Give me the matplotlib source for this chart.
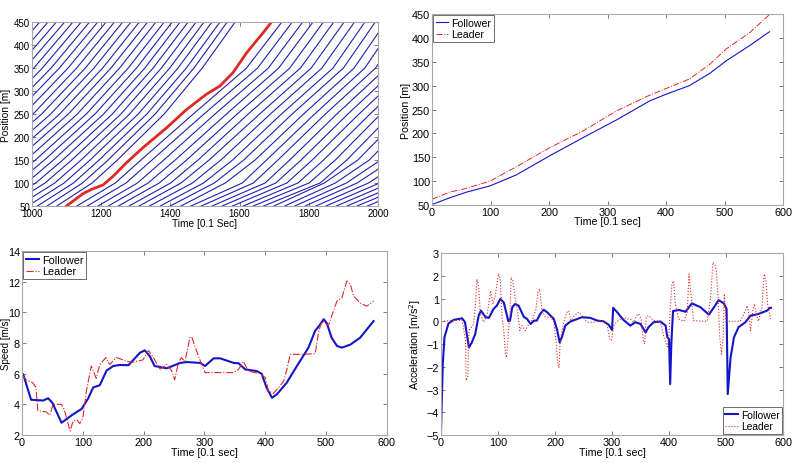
import numpy as np
import matplotlib
matplotlib.use("Agg")
import matplotlib.pyplot as plt

plt.rcParams['font.family'] = ['Liberation Sans', 'DejaVu Sans']

# trajectory plot: time [0.1 s] at which each vehicle passes 50/100/150/250/350/450 m
traj_pos = [50, 100, 150, 250, 350, 450]
cross_50 = [400, 428, 456, 484, 512, 540, 568, 596, 624, 652, 680, 708, 736, 764, 792, 820, 848, 876, 904, 932, 960, 988, 1016, 1044, 1072,
            1130, 1160, 1191, 1221, 1250, 1281, 1310, 1340, 1371, 1400, 1431, 1460, 1490, 1521, 1550, 1580, 1611, 1640, 1670, 1700,
            1731, 1760, 1790, 1821, 1850, 1880, 1911, 1940, 1970]
cross_100 = [522, 549, 576, 603, 630, 658, 685, 712, 739, 767, 794, 821, 849, 876, 903, 930, 957, 984, 1011, 1038, 1066, 1093, 1120, 1146, 1174,
             1241, 1272, 1305, 1336, 1368, 1401, 1431, 1464, 1496, 1527, 1559, 1608, 1640, 1674, 1705, 1737, 1769, 1801, 1833, 1845,
             1877, 1909, 1940, 1973, 2005, 2036, 2068, 2100, 2132]
cross_150 = [610, 637, 664, 690, 716, 743, 770, 796, 823, 850, 876, 903, 930, 956, 983, 1010, 1036, 1062, 1089, 1115, 1142, 1168, 1194, 1220, 1247,
             1315, 1347, 1381, 1414, 1447, 1480, 1512, 1546, 1580, 1612, 1645, 1678, 1711, 1745, 1778, 1810, 1843, 1877, 1910, 1942,
             1975, 2008, 2041, 2075, 2108, 2140, 2173, 2207, 2240]
cross_250 = [772, 798, 824, 849, 874, 900, 926, 951, 977, 1003, 1028, 1054, 1080, 1105, 1131, 1157, 1182, 1207, 1232, 1257, 1282, 1307, 1332, 1356, 1382,
             1466, 1497, 1529, 1562, 1593, 1625, 1658, 1689, 1721, 1752, 1785, 1817, 1848, 1881, 1913, 1945, 1977, 2008, 2040, 2072,
             2105, 2137, 2168, 2200, 2233, 2265, 2297, 2328, 2360]
cross_350 = [906, 931, 956, 980, 1005, 1030, 1055, 1079, 1104, 1129, 1154, 1179, 1204, 1228, 1253, 1278, 1302, 1326, 1350, 1374, 1398, 1422, 1446, 1468, 1492,
             1620, 1652, 1683, 1713, 1745, 1776, 1807, 1838, 1870, 1900, 1931, 1962, 1993, 2024, 2055, 2086, 2117, 2148, 2179, 2210,
             2241, 2272, 2303, 2334, 2365, 2396, 2427, 2458, 2489]
cross_450 = [1022, 1046, 1070, 1094, 1118, 1142, 1166, 1190, 1214, 1238, 1262, 1286, 1310, 1334, 1358, 1382, 1405, 1428, 1451, 1474, 1497, 1520, 1543, 1564, 1587,
             1722, 1752, 1782, 1812, 1842, 1872, 1902, 1932, 1962, 1992, 2022, 2052, 2082, 2112, 2142, 2172, 2202, 2232, 2262, 2292,
             2322, 2352, 2382, 2412, 2442, 2472, 2502, 2532, 2562]

red_time = [1100, 1148, 1172, 1206, 1235, 1273, 1321, 1389, 1447, 1504, 1543, 1581, 1620, 1668, 1692]
red_pos = [50, 77, 86, 96, 115, 144, 177, 220, 260, 293, 311, 340, 383, 427, 450]

# follower / leader position
pos_t = [0, 30, 59, 99, 144, 201, 258, 315, 372, 400, 440, 475, 503, 543, 577]
follower_pos = [51, 65, 77, 90, 113, 153, 191, 228, 268, 282, 300, 326, 352, 384, 413]
leader_pos = [62, 77, 85, 100, 130, 170, 205, 247, 280, 294, 314, 345, 377, 411, 449]

# speed
follower_speed_t = [0, 2, 15, 35, 43, 50, 65, 84, 98, 109, 117, 128, 139, 150, 161, 175, 194, 202, 210, 218,
                    238, 260, 271, 293, 301, 315, 326, 348, 356, 367, 386, 394, 402, 411, 419, 435, 452, 471,
                    482, 490, 496, 501, 509, 518, 526, 540, 556, 578]
follower_speed = [6.0, 5.96, 4.3, 4.25, 4.4, 4.1, 2.8, 3.35, 3.7, 4.4, 5.1, 5.25, 6.2, 6.5, 6.57, 6.55, 7.37, 7.52, 7.15, 6.5,
                  6.35, 6.7, 6.76, 6.7, 6.5, 7.0, 7.0, 6.7, 6.68, 6.28, 6.17, 6.0, 5.1, 4.43, 4.65, 5.4, 6.5, 7.7,
                  8.8, 9.2, 9.55, 9.3, 8.35, 7.8, 7.7, 7.9, 8.35, 9.43]
leader_speed_t = [0, 7, 18, 23, 26, 40, 46, 51, 65, 70, 79, 84, 90, 95, 100, 106, 114, 122, 128, 138,
                  144, 155, 166, 172, 183, 199, 208, 216, 227, 238, 246, 251, 257, 262, 268, 276, 279, 290, 301, 315,
                  348, 356, 364, 372, 391, 400, 405, 413, 422, 430, 435, 441, 457, 482, 488, 493, 504, 512, 518, 526,
                  534, 540, 545, 556, 567, 578]
leader_speed = [5.9, 5.6, 5.4, 5.1, 3.6, 3.5, 3.3, 4.0, 4.0, 3.6, 2.26, 2.9, 3.0, 2.75, 3.1, 4.9, 6.5, 5.7, 6.6, 7.05,
                6.6, 7.05, 6.9, 6.8, 6.75, 6.9, 7.5, 7.05, 6.3, 6.6, 6.2, 5.6, 6.7, 7.05, 6.8, 8.35, 8.4, 7.15, 6.07, 6.07,
                6.07, 6.28, 6.8, 6.17, 6.0, 5.75, 4.9, 4.7, 5.1, 5.5, 6.2, 7.26, 7.26, 7.3, 8.8, 9.4, 9.15, 10.1, 10.75, 10.96,
                12.04, 11.8, 11.07, 10.6, 10.4, 10.74]

# acceleration
follower_acc_t = [0, 3, 6, 13, 22, 37, 42, 46, 49, 54, 60, 66, 70, 78, 84, 92, 98, 104, 110, 115,
                  118, 121, 125, 130, 136, 145, 151, 157, 163, 168, 174, 180, 186, 198, 204, 208, 212, 218, 227, 239,
                  247, 262, 274, 285, 294, 300, 302, 309, 320, 332, 341, 350, 359, 364, 373, 385, 394, 397, 400, 402,
                  404, 407, 417, 429, 440, 455, 470, 479, 487, 496, 501, 503, 508, 514, 522, 534, 543, 552, 560, 572,
                  577, 579]
follower_acc = [-4.8, -1.9, -0.7, -0.1, 0.06, 0.13, -0.04, -0.7, -1.15, -0.93, -0.56, 0.25, 0.47, 0.18, 0.15, 0.54, 0.69, 0.98, 0.83, 0.32,
                0.0, 0.03, 0.62, 0.76, 0.69, 0.2, 0.1, -0.12, 0.03, 0.03, 0.32, 0.51, 0.4, 0.1, -0.41, -0.93, -0.7, -0.19, -0.01, 0.1,
                0.18, 0.15, 0.03, 0.0, -0.15, -0.38, 0.59, 0.4, 0.06, -0.19, -0.04, -0.12, -0.49, -0.26, -0.04, -0.01, -0.19, -0.7, -0.78, -2.76,
                -1.0, 0.45, 0.5, 0.42, 0.79, 0.62, 0.29, 0.62, 0.93, 0.79, 0.54, -3.2, -1.59, -0.7, -0.26, -0.04, 0.25, 0.29, 0.35, 0.47,
                0.59, 0.59]
leader_acc_t = [0, 37, 40, 43, 44, 47, 49, 53, 57, 60, 63, 66, 69, 75, 81, 87, 91, 95, 101, 104,
                107, 110, 113, 115, 117, 121, 123, 126, 130, 135, 138, 142, 148, 154, 160, 166, 170, 173, 177, 183,
                192, 198, 202, 205, 207, 209, 215, 221, 224, 228, 234, 242, 247, 256, 268, 280, 291, 296, 299, 303,
                309, 320, 326, 332, 338, 343, 347, 351, 355, 357, 360, 364, 373, 385, 391, 397, 400, 402, 405, 408,
                411, 417, 426, 432, 435, 438, 443, 455, 467, 473, 477, 480, 483, 486, 489, 492, 495, 497, 500, 525,
                534, 537, 540, 543, 547, 550, 553, 557, 563, 567, 570, 573, 578]
leader_acc = [0.0, 0.05, -0.4, -0.85, -2.6, -2.45, -0.4, -0.26, -0.12, 0.6, 1.86, 1.5, 0.32, -0.04, 0.32, 1.34, 0.76, 1.12, 2.1, 1.78,
              0.18, -0.4, -1.44, -1.59, -0.85, 0.32, 1.93, 1.78, 1.05, 0.32, -0.41, -0.19, -0.41, -0.12, 0.06, 0.47, 1.27, 1.42, 0.47, 0.18,
              0.2, -0.04, -1.0, -1.88, -2.05, -0.85, -0.04, 0.4, 0.47, 0.03, 0.25, 0.4, 0.25, -0.04, -0.04, 0.03, -0.12, -0.78, -0.85, -0.19,
              0.0, 0.18, 0.1, 0.1, -0.04, 0.25, 0.32, 0.1, -0.85, -1.0, 0.18, 0.25, 0.03, 0.0, -0.7, -1.12, -0.56, 0.47, 1.64, 1.78,
              0.76, 0.1, 0.0, 0.4, 2.08, 1.34, 0.03, 0.0, 0.0, 1.05, 2.59, 2.52, 2.22, 1.05, -0.7, -1.44, -0.7, 1.2, 0.0, 0.0,
              0.47, 0.69, 0.32, -0.41, 0.47, 0.76, 0.32, 0.0, 0.62, 2.08, 1.78, 0.76, 0.1]

blue = '#1414c8'
red = '#e02828'
frame = '#a8a8a8'
lab_fs = 7.7

fig = plt.figure(figsize=(7.99, 4.64), dpi=100)
ax1 = fig.add_axes([0.040, 0.554, 0.433, 0.396])
ax2 = fig.add_axes([0.5407, 0.556, 0.4393, 0.4116])
ax3 = fig.add_axes([0.0275, 0.0603, 0.4568, 0.3966])
ax4 = fig.add_axes([0.552, 0.0603, 0.428, 0.3922])

def style(ax, fs):
    for s in ax.spines.values():
        s.set_color(frame)
        s.set_linewidth(0.8)
    ax.tick_params(direction='in', length=3, width=0.6, color='#666666', labelsize=fs,
                   pad=1.5, top=True, right=True)

def add_legend(ax, loc, fs):
    leg = ax.legend(loc=loc, fontsize=fs, fancybox=False, edgecolor='#555555', framealpha=1,
                    handlelength=1.2, handletextpad=0.3, borderpad=0.25, labelspacing=0.15,
                    borderaxespad=0.1)
    leg.get_frame().set_linewidth(0.6)

# --- trajectories
for i in range(len(cross_50)):
    ax1.plot([cross_50[i], cross_100[i], cross_150[i], cross_250[i], cross_350[i], cross_450[i]], traj_pos,
             color='#2020b0', lw=0.8)
ax1.plot(red_time, red_pos, color=red, lw=2.0)
ax1.set_xlim(1000, 2000)
ax1.set_ylim(50, 450)
ax1.set_xticks(range(1000, 2001, 200))
ax1.set_yticks(range(50, 451, 50))
ax1.set_xlabel('Time [0.1 Sec]', fontsize=7.3)
ax1.set_ylabel('Position [m]', fontsize=7.3)
style(ax1, 7)
ax1.xaxis.set_label_coords(0.5, -0.066)
ax1.yaxis.set_label_coords(-0.062, 0.5)

# --- position
ax2.plot(pos_t, follower_pos, color=blue, lw=0.8, label='Follower')
ax2.plot(pos_t, leader_pos, color=red, lw=0.7, ls='-.', label='Leader')
ax2.set_xlim(0, 600)
ax2.set_ylim(50, 450)
ax2.set_xticks(range(0, 601, 100))
ax2.set_yticks(range(50, 451, 50))
ax2.set_xlabel('Time [0.1 sec]', fontsize=lab_fs)
ax2.set_ylabel('Position [m]', fontsize=lab_fs)
style(ax2, 7.8)
ax2.xaxis.set_label_coords(0.5, -0.058)
ax2.yaxis.set_label_coords(-0.06, 0.5)
add_legend(ax2, 'upper left', 7.6)

# --- speed
ax3.plot(follower_speed_t, follower_speed, color=blue, lw=1.5, label='Follower')
ax3.plot(leader_speed_t, leader_speed, color=red, lw=0.8, ls='-.', label='Leader')
ax3.set_xlim(0, 600)
ax3.set_ylim(2, 14)
ax3.set_xticks(range(0, 601, 100))
ax3.set_yticks(range(2, 15, 2))
ax3.set_xlabel('Time [0.1 sec]', fontsize=lab_fs)
ax3.set_ylabel('Speed [m/s]', fontsize=7)
style(ax3, 7.8)
ax3.xaxis.set_label_coords(0.5, -0.065)
ax3.yaxis.set_label_coords(-0.03, 0.5)
add_legend(ax3, 'upper left', 7.8)

# --- acceleration
ax4.plot(follower_acc_t, follower_acc, color=blue, lw=1.5, label='Follower')
ax4.plot(leader_acc_t, leader_acc, color=red, lw=0.8, ls=':', label='Leader')
ax4.set_xlim(0, 600)
ax4.set_ylim(-5, 3)
ax4.set_xticks(range(0, 601, 100))
ax4.set_yticks(range(-5, 4, 1))
ax4.set_xlabel('Time [0.1 sec]', fontsize=lab_fs)
ax4.set_ylabel('Acceleration [m/s$^2$]', fontsize=lab_fs)
style(ax4, 7.8)
ax4.xaxis.set_label_coords(0.5, -0.066)
ax4.yaxis.set_label_coords(-0.052, 0.5)
add_legend(ax4, 'lower right', 7.4)

fig.savefig('out.png', dpi=100)
